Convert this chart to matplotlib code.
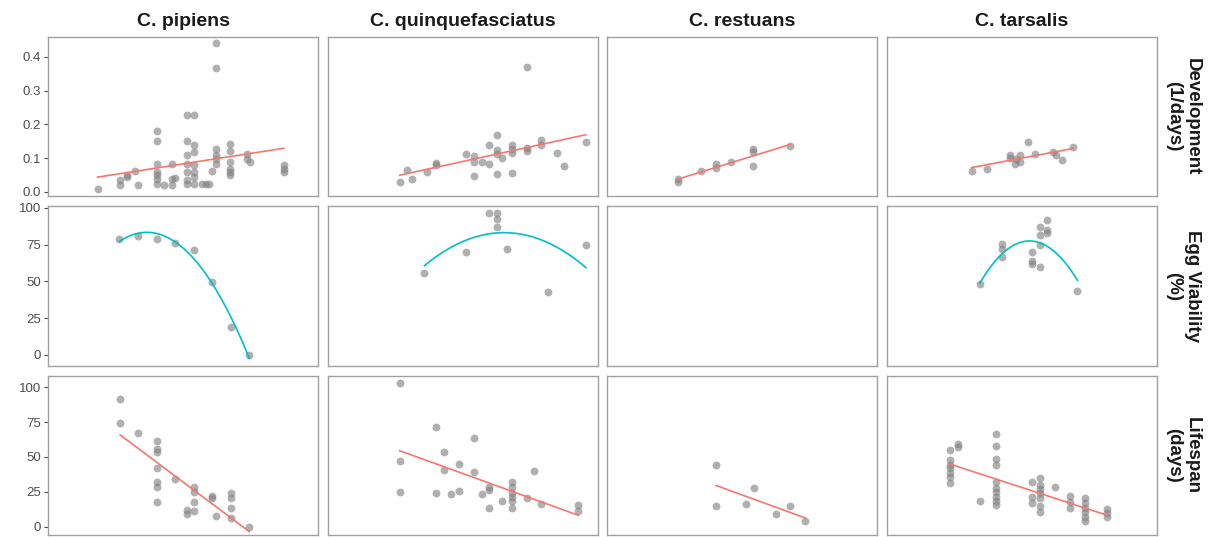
import numpy as np
import matplotlib.pyplot as plt

plt.rcParams['font.family'] = ['Liberation Sans', 'DejaVu Sans']

# species (columns) and traits (rows)
species = ['C. pipiens', 'C. quinquefasciatus', 'C. restuans', 'C. tarsalis']
traits = ['Development\n(1/days)', 'Egg Viability\n(%)', 'Lifespan\n(days)']
fit_degree = [1, 2, 1]

# temperature (x) and trait values (y)
pip_dev_t = [6.6, 9.6, 9.6, 10.5, 10.5, 11.6, 12.0,
             14.5, 14.5, 14.5, 14.5, 14.5, 14.5, 14.5, 15.5, 16.5, 16.5, 16.5, 16.9,
             18.5, 18.5, 18.5, 18.5, 18.5, 18.5, 18.5,
             19.5, 19.5, 19.5, 19.5, 19.5, 19.5, 19.5,
             20.5, 21.0, 21.4, 21.9, 22.4, 22.4, 22.4, 22.4, 22.4, 22.4,
             24.3, 24.3, 24.3, 24.3, 24.3, 24.3, 26.5, 26.5, 26.9, 31.4, 31.4, 31.4]
pip_dev_v = [0.010, 0.020, 0.035, 0.045, 0.050, 0.061, 0.022,
             0.180, 0.152, 0.084, 0.059, 0.049, 0.039, 0.025, 0.022, 0.084, 0.039, 0.022, 0.040,
             0.228, 0.150, 0.108, 0.084, 0.059, 0.034, 0.025,
             0.228, 0.140, 0.118, 0.079, 0.059, 0.044, 0.025,
             0.025, 0.025, 0.025, 0.061, 0.440, 0.367, 0.128, 0.108, 0.098, 0.084,
             0.143, 0.121, 0.088, 0.069, 0.059, 0.051, 0.111, 0.098, 0.088, 0.079, 0.069, 0.059]
pip_via_t = [9.5, 12.0, 14.5, 16.9, 19.5, 21.9, 24.4, 26.8]
pip_via_v = [79.1, 81.0, 79.1, 76.4, 71.2, 49.2, 19.0, 0.0]
pip_life_t = [9.6, 9.6, 12.0, 14.5, 14.5, 14.5, 14.5, 14.5, 14.5, 14.5, 16.9,
              19.5, 19.5, 19.5, 19.5, 18.5, 18.5, 21.9, 21.9, 22.4,
              24.4, 24.4, 24.4, 24.4, 26.8]
pip_life_v = [91.7, 74.3, 67.4, 61.2, 56.0, 53.6, 42.1, 28.3, 17.9, 32.1, 34.0,
              28.6, 25.0, 17.9, 11.2, 11.9, 8.8, 22.1, 20.7, 7.6,
              23.8, 20.7, 13.6, 6.0, 0.0]

qui_dev_t = [9.6, 10.6, 11.2, 13.3, 14.5, 14.5, 18.5, 19.5, 19.5, 19.5, 20.5,
             21.5, 21.5, 22.5, 22.5, 22.5, 22.5, 23.2, 24.5, 24.5, 24.5, 24.5,
             26.5, 26.5, 26.5, 28.4, 28.4, 30.5, 31.5, 34.4]
qui_dev_v = [0.029, 0.064, 0.039, 0.059, 0.086, 0.079, 0.113, 0.106, 0.090, 0.047, 0.090,
             0.140, 0.084, 0.170, 0.123, 0.113, 0.054, 0.100, 0.138, 0.126, 0.116, 0.057,
             0.371, 0.130, 0.120, 0.155, 0.138, 0.115, 0.077, 0.149]
qui_via_t = [12.9, 18.4, 21.5, 22.5, 22.5, 22.5, 23.9, 29.4, 34.4]
qui_via_v = [55.8, 70.1, 96.8, 96.8, 92.1, 87.1, 71.7, 42.9, 74.6]
qui_life_t = [9.6, 9.6, 9.6, 14.5, 14.5, 15.5, 15.5, 16.5, 17.5, 17.5, 19.5, 19.5,
              20.5, 21.5, 21.5, 21.5, 23.2, 24.5, 24.5, 24.5, 24.5, 24.5, 24.5,
              26.5, 27.5, 28.4, 33.4, 33.4]
qui_life_v = [103.1, 47.1, 25.0, 71.4, 23.8, 53.6, 40.5, 23.3, 45.2, 25.7, 63.8, 39.3,
              23.3, 28.1, 26.2, 13.1, 18.6, 31.7, 28.6, 23.8, 21.4, 18.6, 13.1,
              20.2, 40.0, 16.2, 15.5, 11.2]

res_dev_t = [9.5, 9.5, 12.5, 14.5, 14.5, 16.5, 19.4, 19.4, 19.4, 24.4]
res_dev_v = [0.039, 0.029, 0.061, 0.084, 0.071, 0.088, 0.128, 0.118, 0.076, 0.135]
res_via_t = []
res_via_v = []
res_life_t = [14.5, 14.5, 18.5, 19.5, 22.5, 24.4, 26.4]
res_life_v = [44.0, 15.0, 16.2, 27.4, 9.0, 15.0, 4.0]

tar_dev_t = [11.3, 13.3, 16.4, 16.4, 17.1, 17.2, 17.7, 17.7, 18.8, 19.7, 22.1, 22.6, 23.3, 24.8]
tar_dev_v = [0.061, 0.067, 0.108, 0.100, 0.084, 0.098, 0.108, 0.088, 0.149, 0.113,
             0.118, 0.108, 0.096, 0.133]
tar_via_t = [12.4, 15.4, 15.4, 15.4, 19.4, 19.4, 19.4, 20.4, 20.4, 20.4, 20.4,
             21.4, 21.4, 21.4, 25.4]
tar_via_v = [48.5, 75.7, 72.3, 66.2, 70.1, 63.7, 62.1, 87.1, 81.4, 74.6, 59.4,
             91.6, 84.8, 83.0, 43.3]
tar_life_t = [8.5, 8.5, 8.5, 8.5, 8.5, 8.5, 8.5, 9.5, 9.5, 12.4,
              14.5, 14.5, 14.5, 14.5, 14.5, 14.5, 14.5, 14.5, 14.5, 14.5,
              19.4, 20.4, 19.4, 19.4, 20.4, 20.4, 20.4, 20.4, 20.4, 20.4, 22.4,
              24.4, 24.4, 24.4, 26.4, 26.4, 26.4, 26.4, 26.4, 26.4, 29.3, 29.3, 29.3]
tar_life_v = [54.8, 47.6, 44.0, 41.7, 38.1, 35.7, 31.0, 59.5, 57.1, 18.3,
              66.7, 57.9, 48.8, 44.0, 32.1, 27.4, 24.5, 21.4, 18.3, 15.5,
              32.1, 35.0, 21.4, 16.7, 29.8, 26.9, 23.8, 20.2, 15.0, 10.2, 28.6,
              22.1, 17.9, 13.6, 20.2, 16.7, 13.6, 10.2, 7.1, 4.0, 12.4, 9.5, 7.1]

data = [
    [(pip_dev_t, pip_dev_v), (qui_dev_t, qui_dev_v), (res_dev_t, res_dev_v), (tar_dev_t, tar_dev_v)],
    [(pip_via_t, pip_via_v), (qui_via_t, qui_via_v), (res_via_t, res_via_v), (tar_via_t, tar_via_v)],
    [(pip_life_t, pip_life_v), (qui_life_t, qui_life_v), (res_life_t, res_life_v), (tar_life_t, tar_life_v)],
]

row_ylim = [(-0.012, 0.459), (-7.3, 100.9), (-6, 108)]
row_yticks = [[0.0, 0.1, 0.2, 0.3, 0.4], [0, 25, 50, 75, 100], [0, 25, 50, 75, 100]]
line_colors = ['#F8766D', '#00BFC4', '#F8766D']

fig, axes = plt.subplots(3, 4, figsize=(12.21, 5.37), dpi=100, sharey='row')
fig.subplots_adjust(left=48 / 1221, right=1157 / 1221, top=1 - 37 / 537, bottom=2 / 537,
                    wspace=0.034, hspace=0.066)

for r in range(3):
    for c in range(4):
        ax = axes[r, c]
        t, v = data[r][c]
        t = np.array(t)
        v = np.array(v)
        if len(t):
            ax.scatter(t, v, s=32, color='#808080', alpha=0.62, linewidths=0, zorder=2)
            # regression line, like geom_smooth(method = "lm")
            coef = np.polyfit(t, v, fit_degree[r])
            tt = np.linspace(t.min(), t.max(), 100)
            ax.plot(tt, np.polyval(coef, tt), color=line_colors[r], lw=1.2, zorder=3)
        ax.set_xlim(0, 36)
        ax.set_ylim(*row_ylim[r])
        ax.set_yticks(row_yticks[r])
        ax.set_xticks([])
        for s in ax.spines.values():
            s.set_color('#a0a0a0')
            s.set_linewidth(1.0)
        ax.tick_params(axis='y', colors='#4d4d4d', labelsize=9.5, length=3, width=0.8,
                       pad=2, labelcolor='#4d4d4d')
        if c > 0:
            ax.tick_params(axis='y', length=0)
        if r == 0:
            ax.set_title(species[c], fontsize=14, fontweight='bold', color='#1a1a1a', pad=8)
    axes[r, 3].text(1.03, 0.5, traits[r], transform=axes[r, 3].transAxes, rotation=270,
                    ha='left', va='center', fontsize=13.5, fontweight='bold',
                    color='#1a1a1a', multialignment='center', linespacing=1.15)

axes[0, 0].yaxis.set_major_formatter(plt.FuncFormatter(lambda x, p: f'{x:.1f}'))

fig.savefig('out.png', dpi=100)
